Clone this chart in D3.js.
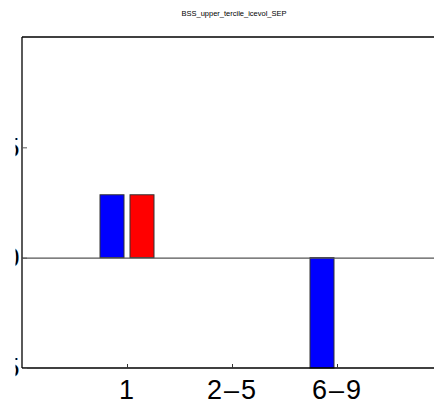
<!DOCTYPE html>
<html>
<head>
<meta charset="utf-8">
<script src="https://cdn.jsdelivr.net/npm/d3@7"></script>
<style>
  html, body { margin: 0; padding: 0; background: #fff; }
  svg { display: block; }
</style>
</head>
<body>
<script>
// Skill score per lead-time group, two series
const title = "BSS_upper_tercile_icevol_SEP";
const categories = ["1", "2\u20135", "6\u20139"];
const seriesBlue = [0.285, 0, -0.5];
const seriesRed = [0.285, 0, 0];
const yTicks = [-0.5, 0, 0.5];
const yTickLabels = ["-0.5", "0", "0.5"];

const W = 434, H = 404;
const svg = d3.select("body").append("svg").attr("width", W).attr("height", H);

const x = d3.scaleLinear().domain([0, 4]).range([22, 442]);
const y = d3.scaleLinear().domain([-0.5, 1]).range([368, 37]);
const barW = 24, offset = 15;

// title
svg.append("text")
  .attr("x", 234).attr("y", 16)
  .attr("text-anchor", "middle")
  .attr("font-family", "Liberation Sans, Arial, sans-serif")
  .attr("font-size", 7.5)
  .text(title);

// bars
const series = [
  { values: seriesBlue, color: "#0000ff", dx: -offset },
  { values: seriesRed, color: "#ff0000", dx: offset }
];
series.forEach(s => {
  svg.append("g").selectAll("rect")
    .data(s.values.map((v, i) => ({ v, i })).filter(d => d.v !== 0))
    .join("rect")
    .attr("x", d => x(d.i + 1) + s.dx - barW / 2)
    .attr("y", d => y(Math.max(0, d.v)))
    .attr("width", barW)
    .attr("height", d => Math.abs(y(d.v) - y(0)))
    .attr("fill", s.color)
    .attr("stroke", "#333")
    .attr("stroke-width", 1);
});

// zero line
svg.append("line")
  .attr("x1", x(0)).attr("x2", W)
  .attr("y1", y(0) + 0.5).attr("y2", y(0) + 0.5)
  .attr("stroke", "#555").attr("stroke-width", 1.2);

// box: left, top, bottom
const frame = svg.append("g").attr("stroke", "#000").attr("stroke-width", 1.3).attr("fill", "none");
frame.append("line").attr("x1", x(0)).attr("x2", x(0)).attr("y1", y(1)).attr("y2", y(-0.5));
frame.append("line").attr("x1", x(0)).attr("x2", W).attr("y1", y(1)).attr("y2", y(1));
frame.append("line").attr("x1", x(0)).attr("x2", W).attr("y1", y(-0.5)).attr("y2", y(-0.5));

// x ticks (inward) and labels
const xAxis = d3.axisBottom(x)
  .tickValues([1, 2, 3])
  .tickFormat(d => categories[d - 1])
  .tickSizeInner(-4).tickSizeOuter(0).tickPadding(12);
const gx = svg.append("g").attr("transform", `translate(0,${y(-0.5)})`).call(xAxis);
gx.select(".domain").remove();
gx.selectAll("line").attr("stroke", "#333");
gx.selectAll("text")
  .attr("font-family", "Liberation Sans, Arial, sans-serif")
  .attr("font-size", 27)
  .attr("letter-spacing", 2)
  .attr("fill", "#000");

// y ticks (inward); labels are cut off by the left margin
svg.append("defs").append("clipPath").attr("id", "ylab")
  .append("rect").attr("x", 15.5).attr("y", 0).attr("width", W).attr("height", H);
const yAxis = d3.axisLeft(y)
  .tickValues(yTicks)
  .tickFormat((d, i) => yTickLabels[i])
  .tickSizeInner(-5).tickSizeOuter(0).tickPadding(2.5);
const clipG = svg.append("g").attr("clip-path", "url(#ylab)");
const gy = clipG.append("g").attr("transform", `translate(${x(0)},0)`).call(yAxis);
gy.select(".domain").remove();
gy.selectAll("line").attr("stroke", "#555");
gy.selectAll("text")
  .attr("font-family", "Liberation Sans, Arial, sans-serif")
  .attr("font-size", 28)
  .attr("fill", "#000");
</script>
</body>
</html>
